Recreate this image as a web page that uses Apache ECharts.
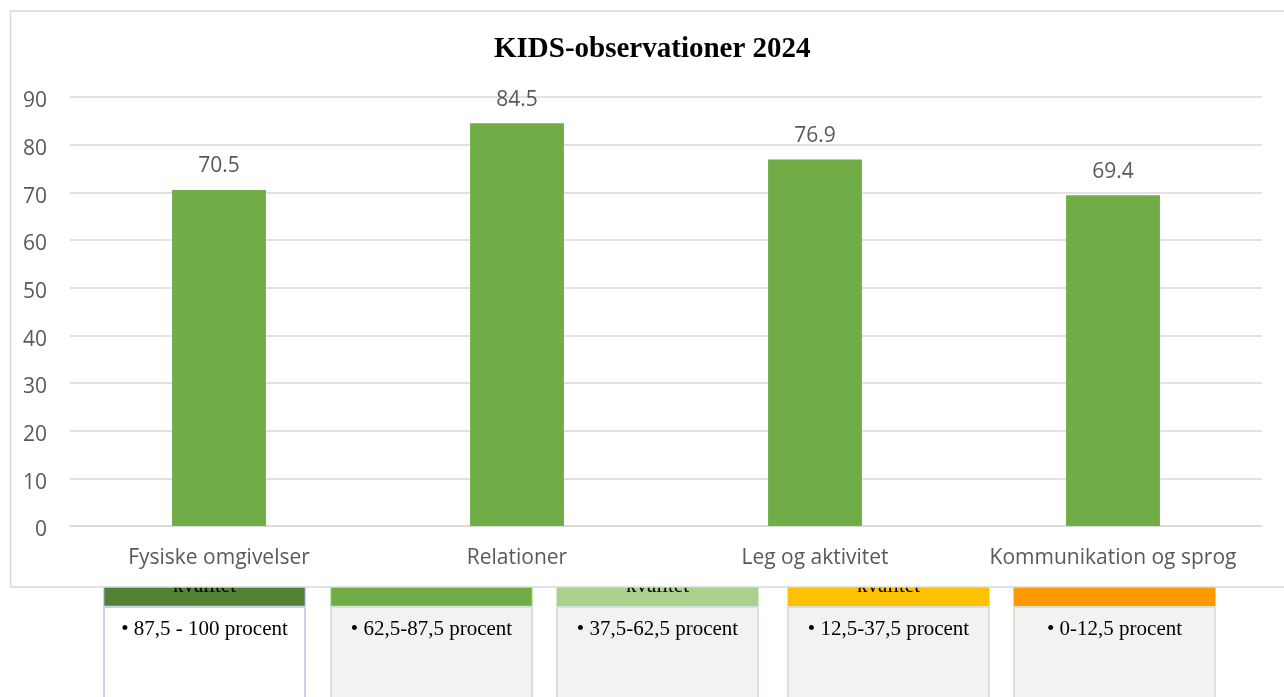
<!DOCTYPE html>
<html>
<head>
<meta charset="utf-8">
<script src="https://cdn.jsdelivr.net/npm/echarts@6/dist/echarts.min.js"></script>
<style>
html,body{margin:0;padding:0;background:#fff;}
#main{width:1284px;height:697px;}
</style>
</head>
<body>
<div id="main"></div>
<script>
const chartTitle = 'KIDS-observationer 2024';
const categories = ['Fysiske omgivelser', 'Relationer', 'Leg og aktivitet', 'Kommunikation og sprog'];
const values = [70.5, 84.5, 76.9, 69.4];
const legendHeaders = ['kvalitet', '', 'kvalitet', 'kvalitet', ''];
const legendRanges = ['• 87,5 - 100 procent', '• 62,5-87,5 procent', '• 37,5-62,5 procent', '• 12,5-37,5 procent', '• 0-12,5 procent'];

// styles (kept separate from data)
const headerColors = ['#548235', '#70ad47', '#a9d18e', '#ffc000', '#ff9900'];
const bodyFills = ['#ffffff', '#f2f2f2', '#f2f2f2', '#f2f2f2', '#f2f2f2'];
const bodyStrokes = ['#c7d3ea', '#d3e2dc', '#d3e2dc', '#d3e2dc', '#d6e3d6'];
const boxLefts = [104, 331, 557, 788, 1014];
const boxWidth = 201;

const chart = echarts.init(document.getElementById('main'));

const graphics = [];
legendHeaders.forEach((h, i) => {
  const x = boxLefts[i];
  graphics.push({
    type: 'rect', z: -20,
    shape: { x: x, y: 570, width: boxWidth, height: 36 },
    style: { fill: headerColors[i], stroke: i === 0 ? '#8faadc' : (i === 1 ? '#8fd460' : headerColors[i]), lineWidth: 1 }
  });
  if (h) {
    graphics.push({
      type: 'text', z: -19,
      x: x + boxWidth / 2, y: 597,
      style: { text: h, fill: '#000', font: '21px "Liberation Serif", "Times New Roman", serif', textAlign: 'center', textVerticalAlign: 'bottom' }
    });
  }
  graphics.push({
    type: 'rect', z: -20,
    shape: { x: x, y: 607, width: boxWidth, height: 110 },
    style: { fill: bodyFills[i], stroke: bodyStrokes[i], lineWidth: 2 }
  });
  graphics.push({
    type: 'text', z: -19,
    x: x + boxWidth / 2, y: 629,
    style: { text: legendRanges[i], fill: '#000', font: '21px "Liberation Serif", "Times New Roman", serif', textAlign: 'center', textVerticalAlign: 'middle' }
  });
});
// chart frame covering the upper part of the legend boxes
graphics.push({
  type: 'rect', z: -5,
  shape: { x: 10.5, y: 11, width: 1400, height: 576 },
  style: { fill: '#ffffff', stroke: '#d9d9d9', lineWidth: 1.5 }
});

chart.setOption({
  animation: false,
  backgroundColor: '#ffffff',
  title: {
    text: chartTitle,
    left: 489,
    top: 30,
    textStyle: { fontFamily: '"Liberation Serif", "Times New Roman", serif', fontWeight: 'bold', fontSize: 29, color: '#000' }
  },
  graphic: graphics,
  grid: { left: 70, right: 22, top: 97, bottom: 171, containLabel: false },
  xAxis: {
    type: 'category',
    data: categories,
    axisTick: { show: false },
    axisLine: { show: true, lineStyle: { color: '#d9d9d9', width: 1.5 } },
    axisLabel: { interval: 0, hideOverlap: false, color: '#595959', fontFamily: '"Open Sans", sans-serif', fontSize: 21, margin: 22 }
  },
  yAxis: {
    type: 'value',
    min: 0, max: 90, interval: 10,
    axisLine: { show: false },
    axisTick: { show: false },
    splitLine: { lineStyle: { color: '#d9d9d9', width: 1.5 } },
    axisLabel: { color: '#595959', fontFamily: '"Open Sans", sans-serif', fontSize: 21, margin: 23, verticalAlign: 'top', lineHeight: 9 }
  },
  series: [{
    type: 'bar',
    data: values,
    barWidth: '31.5%',
    itemStyle: { color: '#70ad47' },
    label: {
      show: true, position: 'top', distance: 13,
      color: '#595959', fontFamily: '"Open Sans", sans-serif', fontSize: 21,
      formatter: p => p.value.toFixed(1)
    }
  }]
});
</script>
</body>
</html>
